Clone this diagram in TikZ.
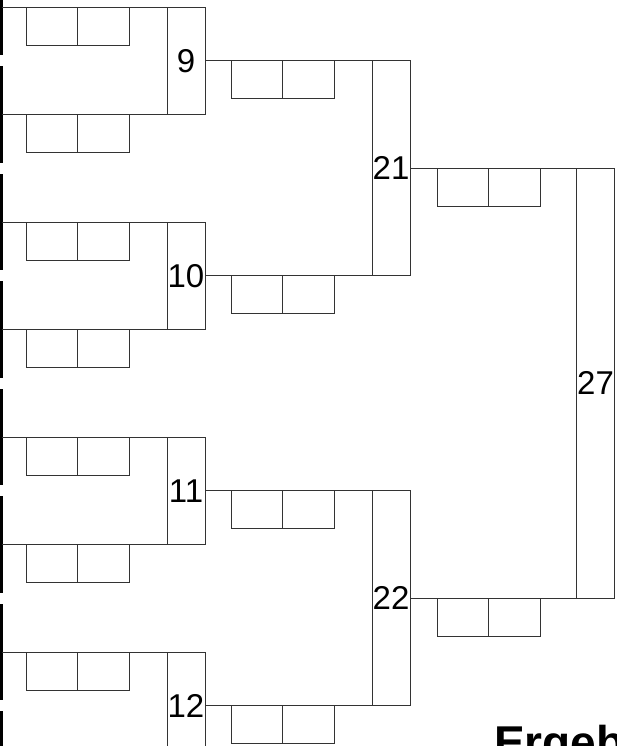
\documentclass[tikz,border=0pt]{standalone}
\usepackage{fontspec}
\setmainfont{Liberation Sans}
\usetikzlibrary{positioning}

\begin{document}
\begin{tikzpicture}[
    x=1pt, y=-1pt,
    line/.style={black!80, line width=0.9pt},
    stub/.style={rectangle, draw=black, line width=2.8pt, minimum width=40pt, minimum height=94pt, inner sep=0pt, outer sep=0pt, anchor=east},
    match/.style={rectangle, draw=black!80, line width=0.9pt, minimum width=38pt, inner sep=0pt, outer sep=0pt, font=\fontsize{33}{33}\selectfont},
    score/.style={rectangle, draw=black!80, line width=0.9pt, minimum width=51.5pt, minimum height=38pt, inner sep=0pt, outer sep=0pt}
]

% -------- Spacing controls --------
\def\ytop{7}        % first line of round 1
\def\ystep{107.5}   % spacing of round 1 lines

% -------- X positions --------
\def\xA{186}   % round 2 boxes
\def\xB{391}   % round 3 boxes
\def\xC{595.5} % final box

\useasboundingbox (0,0) rectangle (616,746);
\clip (0,0) rectangle (616,746);

% -------- Round 1 (cut off at the left edge) --------
\foreach \k in {0,...,7} {
    \pgfmathsetmacro{\y}{\ytop+\k*\ystep}
    \node[stub] (r\k) at (1.5,\y) {};
}

% -------- Round 2 --------
\foreach \i/\k in {9/0,10/1,11/2,12/3} {
    \pgfmathsetmacro{\y}{\ytop+(2*\k+0.5)*\ystep}
    \node[match, minimum height=\ystep] (m\i) at (\xA,\y) {\i};
}

% -------- Round 3 --------
\node[match, minimum height=2*\ystep] (m21) at (\xB,{\ytop+1.5*\ystep}) {21};
\node[match, minimum height=2*\ystep] (m22) at (\xB,{\ytop+5.5*\ystep}) {22};

% -------- Final --------
\node[match, minimum height=4*\ystep] (m27) at (\xC,{\ytop+3.5*\ystep}) {27};

% -------- Lines round 1 -> round 2 --------
\foreach \k/\i in {0/9,2/10,4/11,6/12} {
    \draw[line] (r\k.east) -- (m\i.north west);
}
\foreach \k/\i in {1/9,3/10,5/11,7/12} {
    \draw[line] (r\k.east) -- (m\i.south west);
}

% -------- Lines round 2 -> round 3 -> final --------
\draw[line] (m9.east) -- (m21.north west);
\draw[line] (m10.east) -- (m21.south west);
\draw[line] (m11.east) -- (m22.north west);
\draw[line] (m12.east) -- (m22.south west);
\draw[line] (m21.east) -- (m27.north west);
\draw[line] (m22.east) -- (m27.south west);

% -------- Score boxes (hanging under the lines) --------
\foreach \k in {0,...,6} {
    \node[score, below right=0pt and 24.5pt of r\k.east] (sl\k) {};
    \node[score, right=0pt of sl\k] (sr\k) {};
}
\foreach \i in {9,10,11,12} {
    \node[score, below right=0pt and 26pt of m\i.east] (sl\i) {};
    \node[score, right=0pt of sl\i] (sr\i) {};
}
\foreach \i in {21,22} {
    \node[score, below right=0pt and 27pt of m\i.east] (sl\i) {};
    \node[score, right=0pt of sl\i] (sr\i) {};
}

% -------- Caption (cut off by the page edge) --------
\node[font=\fontsize{46}{46}\selectfont\bfseries, anchor=base west, inner sep=0pt] (caption) at (494,758) {Ergeb};

\end{tikzpicture}
\end{document}
